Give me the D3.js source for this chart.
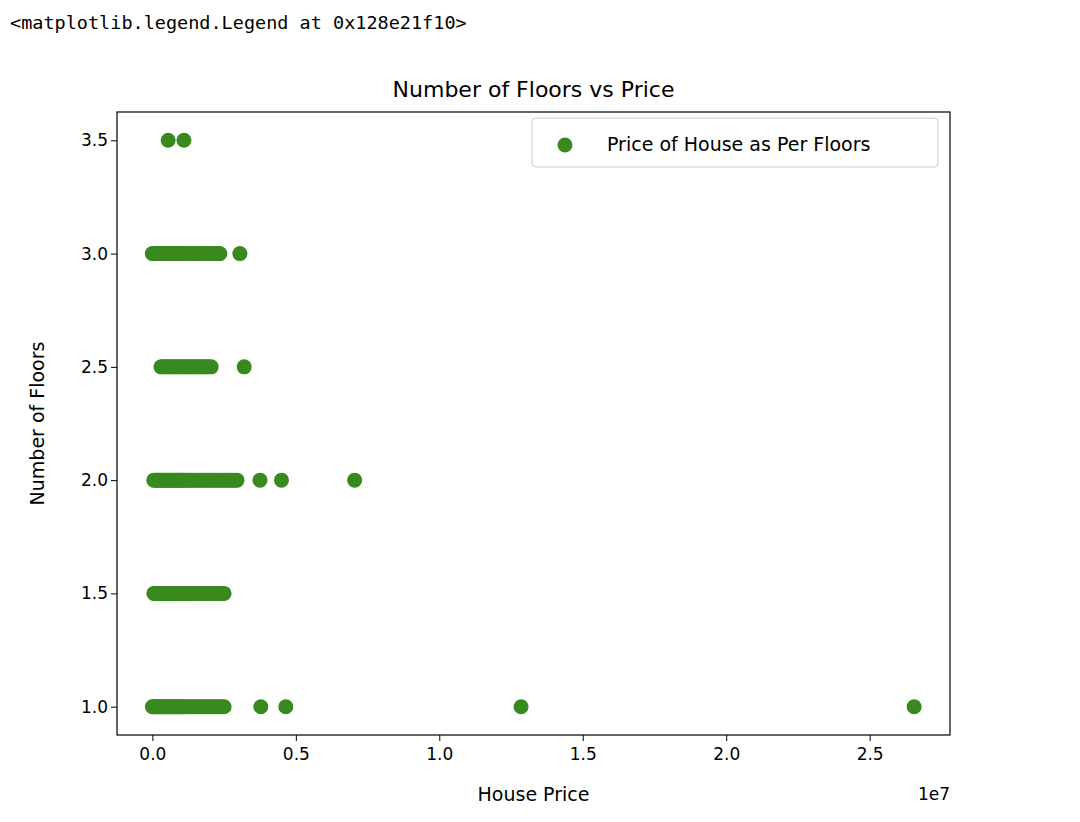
<!DOCTYPE html>
<html>
<head>
<meta charset="utf-8">
<script src="https://cdn.jsdelivr.net/npm/d3@7"></script>
<style>
  body { margin: 0; background: #fff; }
  text { font-family: "DejaVu Sans", sans-serif; fill: #000; }
</style>
</head>
<body>
<svg id="chart" width="1080" height="822"></svg>
<script>
// prices in millions, per floor level
const floors1 = [0.0, 0.04, 0.08, 0.12, 0.15, 0.2, 0.25, 0.3, 0.35, 0.4, 0.45, 0.5, 0.55, 0.6, 0.65, 0.7, 0.75, 0.8, 0.85, 0.9, 0.95, 1.0, 1.05, 1.1, 1.15, 1.22, 1.3, 1.38, 1.45, 1.52, 1.6, 1.68, 1.75, 1.82, 1.9, 1.98, 2.05, 2.12, 2.2, 2.28, 2.35, 2.42, 2.5, 3.78, 4.65, 12.85, 26.55];
const floors15 = [0.05, 0.1, 0.15, 0.2, 0.25, 0.3, 0.35, 0.4, 0.45, 0.5, 0.55, 0.6, 0.65, 0.7, 0.75, 0.8, 0.85, 0.9, 0.95, 1.0, 1.05, 1.1, 1.15, 1.22, 1.3, 1.38, 1.45, 1.52, 1.6, 1.68, 1.75, 1.82, 1.9, 1.98, 2.05, 2.12, 2.2, 2.28, 2.35, 2.42, 2.5];
const floors2 = [0.05, 0.1, 0.15, 0.2, 0.25, 0.3, 0.35, 0.4, 0.45, 0.5, 0.55, 0.6, 0.65, 0.7, 0.75, 0.8, 0.85, 0.9, 0.95, 1.0, 1.05, 1.1, 1.15, 1.22, 1.3, 1.38, 1.45, 1.52, 1.6, 1.68, 1.75, 1.82, 1.9, 1.98, 2.05, 2.12, 2.2, 2.28, 2.35, 2.42, 2.5, 2.58, 2.65, 2.72, 2.8, 2.88, 2.95, 3.75, 4.5, 7.05];
const floors25 = [0.3, 0.38, 0.45, 0.52, 0.6, 0.68, 0.75, 0.82, 0.9, 0.98, 1.05, 1.12, 1.2, 1.28, 1.35, 1.42, 1.5, 1.58, 1.65, 1.72, 1.8, 1.88, 1.95, 2.05, 3.2];
const floors3 = [0.0, 0.08, 0.15, 0.22, 0.3, 0.38, 0.45, 0.52, 0.6, 0.68, 0.75, 0.82, 0.9, 0.98, 1.05, 1.12, 1.2, 1.3, 1.4, 1.5, 1.6, 1.7, 1.8, 1.9, 2.0, 2.1, 2.2, 2.3, 2.35, 3.05];
const floors35 = [0.55, 1.1];
const floorLevels = [1.0, 1.5, 2.0, 2.5, 3.0, 3.5];
const priceGroups = [floors1, floors15, floors2, floors25, floors3, floors35];
const xTicks = [0, 0.5, 1.0, 1.5, 2.0, 2.5];
const yTicks = [1.0, 1.5, 2.0, 2.5, 3.0, 3.5];

const points = [];
priceGroups.forEach((g, i) => g.forEach(p => points.push({ price: p / 10, floors: floorLevels[i] })));

const svg = d3.select("#chart");
const m = { left: 117, right: 950, top: 112, bottom: 735 };

const x = d3.scaleLinear().domain([-0.1233, 2.78]).range([m.left, m.right]);
const y = d3.scaleLinear().domain([0.875, 3.625]).range([m.bottom, m.top]);

svg.append("text").attr("x", 10).attr("y", 29)
  .style("font-family", "'DejaVu Sans Mono', monospace").style("font-size", "18.5px")
  .text("<matplotlib.legend.Legend at 0x128e21f10>");

svg.append("text").attr("x", (m.left + m.right) / 2).attr("y", 97)
  .attr("text-anchor", "middle").style("font-size", "22px").text("Number of Floors vs Price");

const xAxis = svg.append("g").attr("transform", `translate(0,${m.bottom})`)
  .call(d3.axisBottom(x).tickValues(xTicks).tickFormat(d3.format(".1f")).tickSizeOuter(0).tickSize(6));
const yAxis = svg.append("g").attr("transform", `translate(${m.left},0)`)
  .call(d3.axisLeft(y).tickValues(yTicks).tickFormat(d3.format(".1f")).tickSizeOuter(0).tickSize(6));
[xAxis, yAxis].forEach(a => {
  a.select(".domain").remove();
  a.selectAll("text").style("font-size", "17px").style("font-family", "'DejaVu Sans', sans-serif");
  a.selectAll("line").attr("stroke", "#000");
});
xAxis.selectAll("text").attr("dy", "0.95em");

svg.append("g").selectAll("circle").data(points).join("circle")
  .attr("cx", d => x(d.price)).attr("cy", d => y(d.floors))
  .attr("r", 7.5).attr("fill", "#388a1e");

svg.append("rect").attr("x", m.left).attr("y", m.top)
  .attr("width", m.right - m.left).attr("height", m.bottom - m.top)
  .attr("fill", "none").attr("stroke", "#000").attr("stroke-width", 1.2);

svg.append("text").attr("x", (m.left + m.right) / 2).attr("y", 801)
  .attr("text-anchor", "middle").style("font-size", "19px").text("House Price");
svg.append("text").attr("x", 950).attr("y", 800)
  .attr("text-anchor", "end").style("font-size", "17px").text("1e7");
svg.append("text").attr("transform", `translate(44,${(m.top + m.bottom) / 2}) rotate(-90)`)
  .attr("text-anchor", "middle").style("font-size", "19px").text("Number of Floors");

const lg = svg.append("g").attr("transform", "translate(532,118)");
lg.append("rect").attr("width", 406).attr("height", 49).attr("rx", 4)
  .attr("fill", "#fff").attr("stroke", "#ccc");
lg.append("circle").attr("cx", 33).attr("cy", 27).attr("r", 7.5).attr("fill", "#388a1e");
lg.append("text").attr("x", 75).attr("y", 33).style("font-size", "19px").text("Price of House as Per Floors");
</script>
</body>
</html>
